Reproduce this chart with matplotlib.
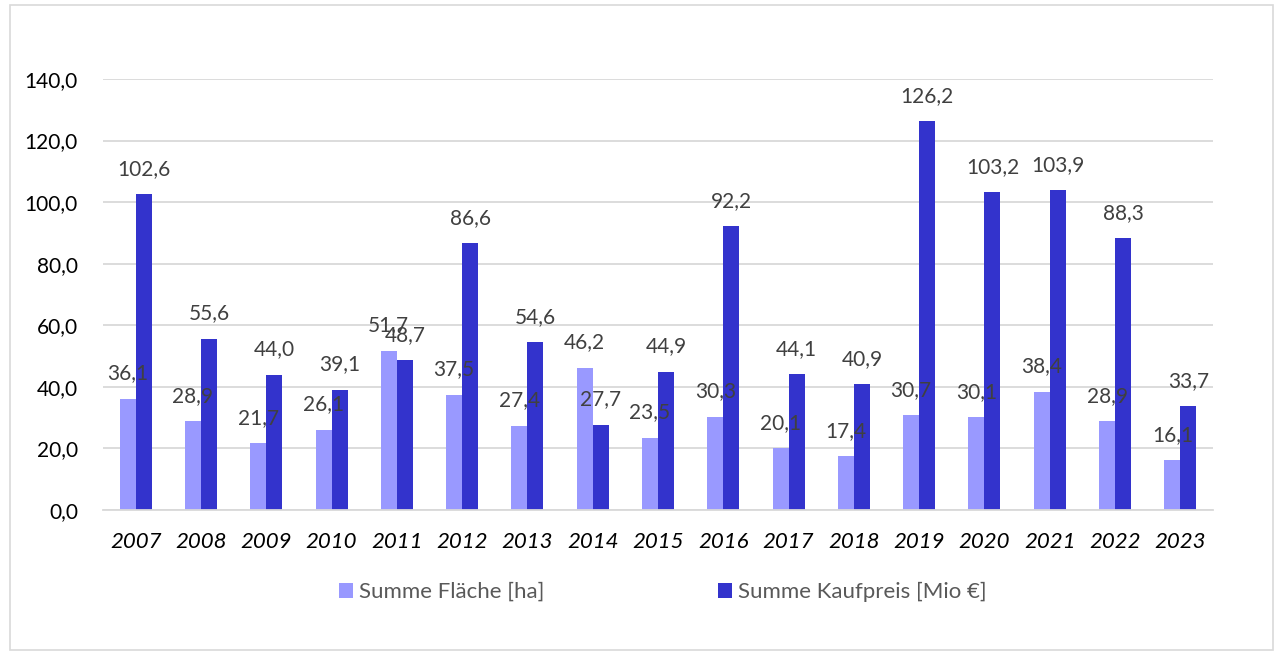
import numpy as np
import matplotlib.pyplot as plt
from matplotlib.patches import Rectangle

years = [str(y) for y in range(2007, 2024)]
flaeche = [36.1, 28.9, 21.7, 26.1, 51.7, 37.5, 27.4, 46.2, 23.5, 30.3,
           20.1, 17.4, 30.7, 30.1, 38.4, 28.9, 16.1]
kaufpreis = [102.6, 55.6, 44.0, 39.1, 48.7, 86.6, 54.6, 27.7, 44.9, 92.2,
             44.1, 40.9, 126.2, 103.2, 103.9, 88.3, 33.7]

light = '#9999FF'
dark = '#3333CC'
plt.rcParams['font.family'] = ['Lato', 'DejaVu Sans']

fig = plt.figure(figsize=(12.78, 6.55), dpi=100)
ax = fig.add_axes([103 / 1278, 1 - 510 / 655, 1110 / 1278, 431 / 655])

x = np.arange(len(years))
w = 0.245
b1 = ax.bar(x - w / 2, flaeche, w, color=light, label='Summe Fläche [ha]', zorder=2)
b2 = ax.bar(x + w / 2, kaufpreis, w, color=dark, label='Summe Kaufpreis [Mio €]', zorder=2)

def fmt(v):
    return f'{v:.1f}'.replace('.', ',')

for bars, vals in ((b1, flaeche), (b2, kaufpreis)):
    for r, v in zip(bars, vals):
        ax.annotate(fmt(v), (r.get_x() + r.get_width() / 2, v), xytext=(0, 11),
                    textcoords='offset points', ha='center', va='bottom',
                    fontsize=15, color='#404040', zorder=3)

ax.set_xlim(-0.5, len(years) - 0.5)
ax.set_ylim(0, 140)
ax.set_yticks(np.arange(0, 141, 20))
ax.set_yticklabels([fmt(v) for v in np.arange(0, 141, 20)], fontsize=15)
ax.set_xticks(x)
ax.set_xticklabels(years, fontsize=16, style='italic')
ax.tick_params(length=0)
ax.tick_params(axis='x', pad=16)
ax.tick_params(axis='y', pad=18)
ax.grid(axis='y', color='#d9d9d9', linewidth=1.3, zorder=0)
for s in ('top', 'right', 'left'):
    ax.spines[s].set_visible(False)
ax.spines['bottom'].set_color('#d9d9d9')
ax.spines['bottom'].set_linewidth(1.3)

fig.legend(handles=[b1, b2], loc='center left',
           bbox_to_anchor=(339 / 1278, 1 - 592 / 655), ncol=2, frameon=False,
           fontsize=16, handlelength=0.63, handleheight=0.63, handletextpad=0.27,
           columnspacing=7.8, borderpad=0, borderaxespad=0, labelcolor='#595959')

fig.patches.append(Rectangle((10 / 1278, 5 / 655), 1263 / 1278, 645 / 655,
                             transform=fig.transFigure, fill=False,
                             edgecolor='#d9d9d9', linewidth=1.2))

fig.savefig('out.png', dpi=100)
